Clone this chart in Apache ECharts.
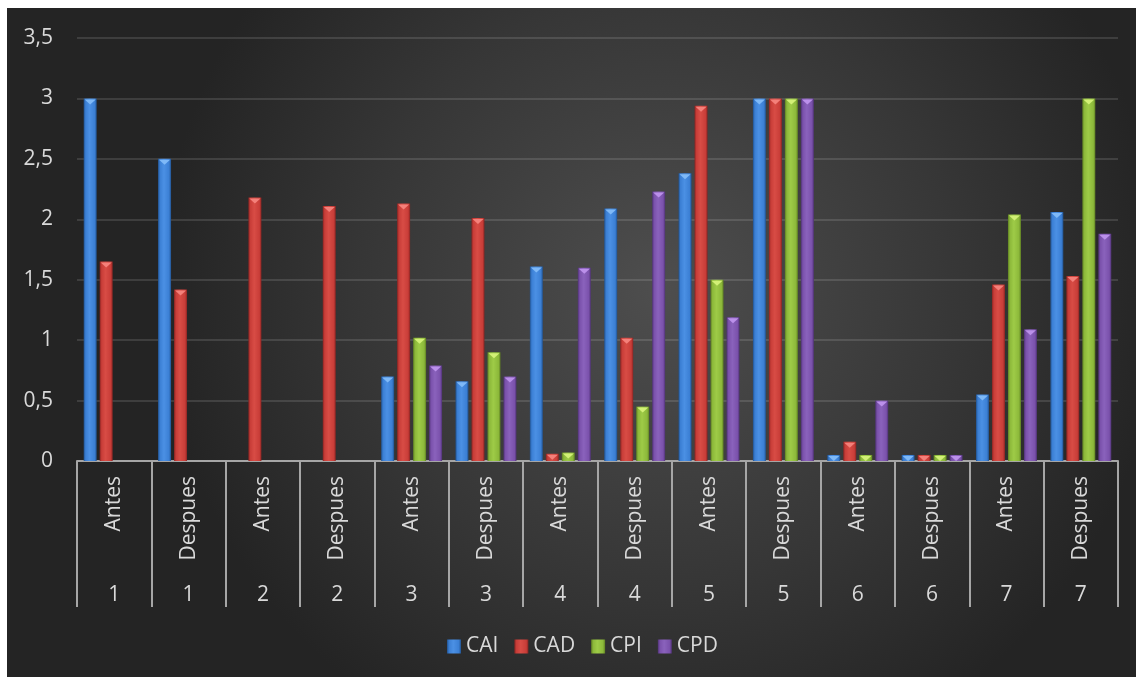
<!DOCTYPE html>
<html>
<head>
<meta charset="utf-8">
<script src="https://cdn.jsdelivr.net/npm/echarts@6/dist/echarts.min.js"></script>
<style>
  html, body { margin: 0; padding: 0; background: #ffffff; }
  #chart { position: absolute; left: 7px; top: 8px; width: 1129px; height: 669px; }
</style>
</head>
<body>
<div id="chart"></div>
<script>
// categories (two levels)
var fases = ['Antes', 'Despues', 'Antes', 'Despues', 'Antes', 'Despues', 'Antes', 'Despues',
  'Antes', 'Despues', 'Antes', 'Despues', 'Antes', 'Despues'];
var grupos = ['1', '1', '2', '2', '3', '3', '4', '4', '5', '5', '6', '6', '7', '7'];

// series values
var CAI = [3, 2.5, 0, 0, 0.7, 0.66, 1.61, 2.09, 2.38, 3, 0.05, 0.05, 0.55, 2.06];
var CAD = [1.65, 1.42, 2.18, 2.11, 2.13, 2.01, 0.06, 1.02, 2.94, 3, 0.16, 0.05, 1.46, 1.53];
var CPI = [0, 0, 0, 0, 1.02, 0.9, 0.07, 0.45, 1.5, 3, 0.05, 0.05, 2.04, 3];
var CPD = [0, 0, 0, 0, 0.79, 0.7, 1.6, 2.23, 1.19, 3, 0.5, 0.05, 1.09, 1.88];

var yTicks = { min: 0, max: 3.5, step: 0.5 };

var FONT = '"Open Sans", "Noto Sans", sans-serif';
var TXT = '#d9d9d9';
var FS = 21;

// [name, values, dark edge, body, highlight, cap]
var defs = [
  ['CAI', CAI, '#21528f', '#3b7fd4', '#4b90e4', '#7fb9f7'],
  ['CAD', CAD, '#8a2422', '#c83d38', '#d84c45', '#f4807a'],
  ['CPI', CPI, '#5e7f22', '#8cb83a', '#9ecb47', '#d2f076'],
  ['CPD', CPD, '#4f3275', '#7a51ab', '#8a62bc', '#bb90ea']
];

function barColor(d) {
  return new echarts.graphic.LinearGradient(0, 0, 1, 0, [
    { offset: 0, color: d[2] },
    { offset: 0.15, color: d[3] },
    { offset: 0.45, color: d[4] },
    { offset: 0.85, color: d[3] },
    { offset: 1, color: d[2] }
  ]);
}

var BW = 13, GAP = '23%';
var series = [];
defs.forEach(function (d) {
  series.push({
    name: d[0],
    type: 'bar',
    barWidth: BW,
    barGap: GAP,
    itemStyle: { color: barColor(d) },
    data: d[1]
  });
});
// bevelled caps on top of each bar
defs.forEach(function (d) {
  series.push({
    name: d[0] + '_cap',
    type: 'pictorialBar',
    barWidth: BW,
    barGap: GAP,
    symbol: 'path://M0,0 L10,0 L5,5 Z',
    symbolSize: [BW - 2, 5],
    symbolPosition: 'end',
    symbolOffset: [0, 1],
    itemStyle: { color: d[5] },
    silent: true,
    z: 3,
    data: d[1].map(function (v) { return v > 0 ? v : null; })
  });
});

var chart = echarts.init(document.getElementById('chart'));
chart.setOption({
  backgroundColor: new echarts.graphic.RadialGradient(0.58, 0.42, 0.75, [
    { offset: 0, color: '#4e4e4e' },
    { offset: 0.6, color: '#363636' },
    { offset: 1, color: '#242424' }
  ]),
  animation: false,
  grid: { left: 70, right: 18, top: 30, bottom: 216 },
  legend: {
    data: ['CAI', 'CAD', 'CPI', 'CPD'],
    left: 435,
    top: 623,
    icon: 'rect',
    itemWidth: 14,
    itemHeight: 14,
    itemGap: 16,
    textStyle: { color: TXT, fontSize: FS, fontFamily: FONT }
  },
  xAxis: [{
    type: 'category',
    data: fases,
    position: 'bottom',
    axisLine: { lineStyle: { color: '#a6a6a6', width: 2 } },
    axisTick: { show: true, interval: 0, length: 146, lineStyle: { color: '#a6a6a6', width: 2 } },
    axisLabel: { interval: 0, rotate: 90, margin: 15, color: TXT, fontSize: FS, fontFamily: FONT },
    splitLine: { show: false }
  }, {
    type: 'category',
    data: grupos,
    position: 'bottom',
    axisLine: { show: false },
    axisTick: { show: false },
    axisLabel: { interval: 0, margin: 124, color: TXT, fontSize: FS, fontFamily: FONT },
    splitLine: { show: false }
  }],
  yAxis: {
    type: 'value',
    min: yTicks.min,
    max: yTicks.max,
    interval: yTicks.step,
    axisLine: { show: false },
    axisTick: { show: false },
    axisLabel: {
      margin: 24,
      color: TXT,
      fontSize: FS,
      fontFamily: FONT,
      formatter: function (v) { return String(v).replace('.', ','); }
    },
    splitLine: { lineStyle: { color: 'rgba(255,255,255,0.12)', width: 2 } }
  },
  series: series
});
</script>
</body>
</html>
